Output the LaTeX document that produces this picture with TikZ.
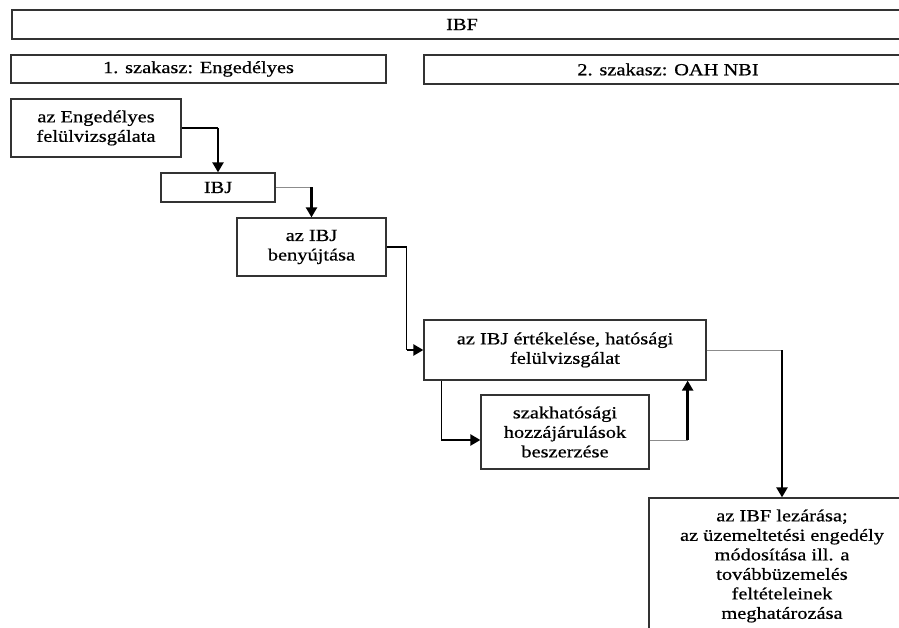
\documentclass[tikz,border=0pt]{standalone}
\usepackage{fontspec}
\setmainfont{Liberation Serif}[FakeStretch=1.2,FakeBold=0.6]
\usetikzlibrary{arrows.meta}

\begin{document}
\begin{tikzpicture}[x=1pt,y=-1pt,
    box/.style={rectangle, draw=black!80, line width=1.3pt, align=center, inner sep=0pt,
      font=\fontsize{17pt}{19.5pt}\selectfont},
    thinline/.style={draw=black!45, line width=1pt},
    darkline/.style={draw=black, line width=1.2pt},
    flow/.style={draw=black, line width=2.4pt, -{Triangle[width=11pt,length=10pt]}}]

    \useasboundingbox (0,0) rectangle (899,628);
    \clip (0,0) rectangle (899,628);

    % headers
    \node (ibf) [box, minimum width=900pt, minimum height=29pt] at (462,24.5) {IBF};
    \node (szak1) [box, minimum width=375pt, minimum height=28pt] at (198.5,69) {1. szakasz: Engedélyes};
    \node (szak2) [box, minimum width=488pt, minimum height=29pt] at (668,69.5) {2. szakasz: OAH NBI};

    % steps
    \node (felulv) [box, minimum width=170pt, minimum height=58pt] at (96,128)
      {az Engedélyes\\felülvizsgálata};
    \node (ibj) [box, minimum width=114pt, minimum height=29pt] at (218,187.5) {IBJ};
    \node (benyujt) [box, minimum width=149pt, minimum height=58pt] at (311.5,247)
      {az IBJ\\benyújtása};
    \node (ertek) [box, minimum width=282pt, minimum height=60pt] at (565,350)
      {az IBJ értékelése, hatósági\\felülvizsgálat};
    \node (szakh) [box, minimum width=168pt, minimum height=74pt] at (565,432)
      {szakhatósági\\hozzájárulások\\beszerzése};
    \node (lezaras) [box, minimum width=266pt, minimum height=136pt] at (782,566)
      {az IBF lezárása;\\az üzemeltetési engedély\\módosítása ill. a\\továbbüzemelés\\feltételeinek\\meghatározása};

    % connectors
    \coordinate (k1) at (felulv.east -| ibj.north);
    \draw[darkline] (felulv.east) -- (k1);
    \draw[flow] (k1) -- (ibj.north);

    \coordinate (k2) at (ibj.east -| benyujt.north);
    \draw[thinline] (ibj.east) -- (k2);
    \draw[flow] (k2) -- (benyujt.north);

    \coordinate (k3) at ([xshift=20pt]benyujt.east);
    \coordinate (k4) at (k3 |- ertek.west);
    \draw[darkline] (benyujt.east) -- (k3) -- (k4);
    \draw[flow] (k4) -- (ertek.west);

    \coordinate (k5) at ([xshift=18pt]ertek.south west);
    \coordinate (szakin) at ([yshift=-8pt]szakh.west);
    \coordinate (k6) at (k5 |- szakin);
    \draw[darkline, line width=1.6pt] (k5) -- (k6);
    \draw[flow] (k6) -- (szakin);

    \coordinate (szakout) at ([yshift=-8pt]szakh.east);
    \coordinate (k7) at ([xshift=38pt]szakout);
    \coordinate (k8) at (k7 |- ertek.south);
    \draw[thinline] (szakout) -- (k7);
    \draw[flow] (k7) -- (k8);

    \coordinate (k9) at (ertek.east -| lezaras.north);
    \draw[thinline] (ertek.east) -- (k9);
    \draw[flow] (k9) -- (lezaras.north);

\end{tikzpicture}
\end{document}
